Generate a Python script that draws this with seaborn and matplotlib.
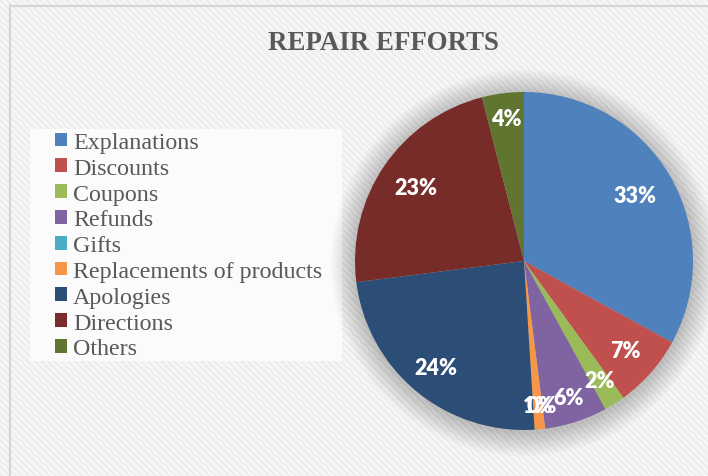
import matplotlib
matplotlib.use("Agg")
import matplotlib.pyplot as plt
import seaborn as sns
import numpy as np
from matplotlib.patches import Rectangle, Circle
from matplotlib.lines import Line2D

sns.set_theme(style="white")

categories = ["Explanations", "Discounts", "Coupons", "Refunds", "Gifts",
              "Replacements of products", "Apologies", "Directions", "Others"]
values = [33, 7, 2, 6, 0, 1, 24, 23, 4]
colors = ["#4F81BD", "#C0504D", "#9BBB59", "#8064A2", "#4BACC6",
          "#F79646", "#2C4D75", "#772C2A", "#5F7530"]
label_dist = [0.76, 0.80, 0.84, 0.85, 0.86, 0.86, 0.82, 0.77, 0.85]
title = "REPAIR EFFORTS"

W, H = 708, 477
fig = plt.figure(figsize=(W / 100, H / 100), dpi=100)
fig.patch.set_facecolor("#f6f6f6")

# striped background
plt.rcParams["hatch.linewidth"] = 1.0
bg = Rectangle((0, 0), 1, 1, transform=fig.transFigure, facecolor="#f6f6f6",
               edgecolor="#e9e9e9", hatch="\\\\\\\\\\", linewidth=0, zorder=-10)
fig.patches.append(bg)

# border lines (left and top)
fig.add_artist(Line2D([9.5 / W, 9.5 / W], [0, 1 - 6 / H], transform=fig.transFigure,
                      color="#d4d4d4", lw=1.5))
fig.add_artist(Line2D([9.5 / W, 1], [1 - 6.5 / H, 1 - 6.5 / H], transform=fig.transFigure,
                      color="#d4d4d4", lw=1.5))

# legend background box
fig.patches.append(Rectangle((30 / W, 1 - 362 / H), 312 / W, 232 / H,
                             transform=fig.transFigure, facecolor="#fbfbfb",
                             edgecolor="none", zorder=-5))

# pie axes
cx, cy, R = 524, 262, 169
lim = 1.3
half = R * lim
ax = fig.add_axes([(cx - half) / W, (H - cy - half) / H, 2 * half / W, 2 * half / H])
ax.set_aspect("equal")
ax.axis("off")
ax.patch.set_alpha(0)

# soft shadow
for i in range(18):
    r = 1.0 + 0.008 * (i + 1)
    ax.add_patch(Circle((0, -0.012), r, facecolor="black", alpha=0.010, lw=0, zorder=0))

wedges, texts, autotexts = ax.pie(
    values, colors=colors, startangle=90, counterclock=False,
    autopct="%.0f%%", pctdistance=0.8, radius=1.0,
    wedgeprops=dict(linewidth=0, zorder=2),
    textprops=dict(color="white", fontsize=15.5, fontweight="heavy",
                   family=["Lato", "DejaVu Sans"]),
)
ax.set_xlim(-lim, lim)
ax.set_ylim(-lim, lim)
for w, t, d in zip(wedges, autotexts, label_dist):
    ang = np.deg2rad((w.theta1 + w.theta2) / 2)
    t.set_position((d * np.cos(ang), d * np.sin(ang)))
    t.set_zorder(5)

fig.text(383 / W, 1 - 43 / H, title, ha="center", va="center",
         fontsize=19.4, fontweight="bold", color="#595959",
         family=["Liberation Serif", "DejaVu Serif"])

leg = fig.legend(wedges, categories, loc="upper left",
                 bbox_to_anchor=(55 / W, 1 - 133 / H),
                 frameon=False,
                 prop=dict(family="Liberation Serif", size=17.3),
                 handlelength=0.5, handleheight=0.5, handletextpad=0.25,
                 labelspacing=0.2, borderpad=0.0, borderaxespad=0)
for t in leg.get_texts():
    t.set_color("#595959")

fig.savefig("out.png", dpi=100, facecolor=fig.get_facecolor())
